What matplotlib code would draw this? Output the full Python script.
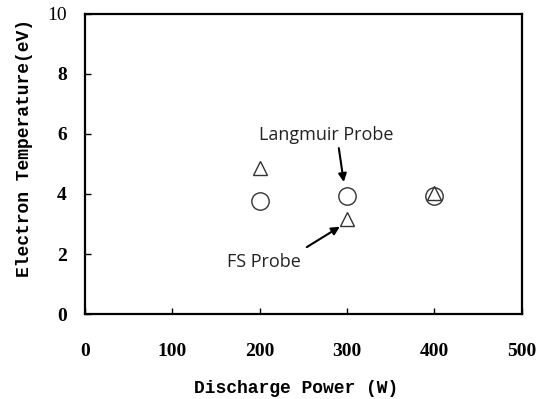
import matplotlib
matplotlib.use("Agg")
import matplotlib.pyplot as plt

power = [200, 300, 400]
langmuir_te = [3.78, 3.93, 3.93]
fs_te = [4.87, 3.16, 4.04]
x_ticks = [0, 100, 200, 300, 400, 500]
y_ticks = [0, 2, 4, 6, 8, 10]

fig = plt.figure(figsize=(5.47, 3.99), dpi=100)
ax = fig.add_axes([0.155, 0.213, 0.799, 0.752])

ax.plot(power, langmuir_te, linestyle='none', marker='o', markersize=12.5,
        markerfacecolor='white', markeredgecolor='#333333', markeredgewidth=1.0)
ax.plot(power, fs_te, linestyle='none', marker='^', markersize=10,
        markerfacecolor='none', markeredgecolor='#333333', markeredgewidth=1.0)

ax.set_xlim(0, 500)
ax.set_ylim(0, 10)
ax.set_xticks(x_ticks)
ax.set_yticks(y_ticks)
tickfont = dict(family='Liberation Serif', weight='bold', size=14)
ax.set_xticklabels([str(t) for t in x_ticks], **tickfont)
ax.set_yticklabels([str(t) for t in y_ticks], **tickfont)
ax.get_yticklabels()[-1].set_fontweight('normal')
ax.tick_params(direction='in', length=4, width=1)
ax.tick_params(axis='x', pad=21)
ax.tick_params(axis='y', pad=13)
for s in ax.spines.values():
    s.set_linewidth(1.6)

labfont = dict(family='Liberation Mono', weight='bold', size=13)
ax.set_xlabel('Discharge Power (W)', va='center', **labfont)
ax.set_ylabel('Electron Temperature(eV)', va='center', **labfont)
ax.xaxis.set_label_coords(0.484, -0.247)
ax.yaxis.set_label_coords(-0.137, 0.553)

annfont = dict(family='Open Sans', size=13, color='#222222')
ax.text(276.5, 5.97, 'Langmuir Probe', ha='center', va='center', **annfont)
ax.text(204.8, 1.74, 'FS Probe', ha='center', va='center', **annfont)
arrow = dict(arrowstyle='-|>', color='black', lw=1.5,
             shrinkA=0, shrinkB=0, mutation_scale=12)
ax.annotate('', xy=(296.3, 4.4), xytext=(290.6, 5.53), arrowprops=arrow)
ax.annotate('', xy=(291.8, 2.91), xytext=(254, 2.23), arrowprops=arrow)

fig.savefig('out.png', dpi=100)
